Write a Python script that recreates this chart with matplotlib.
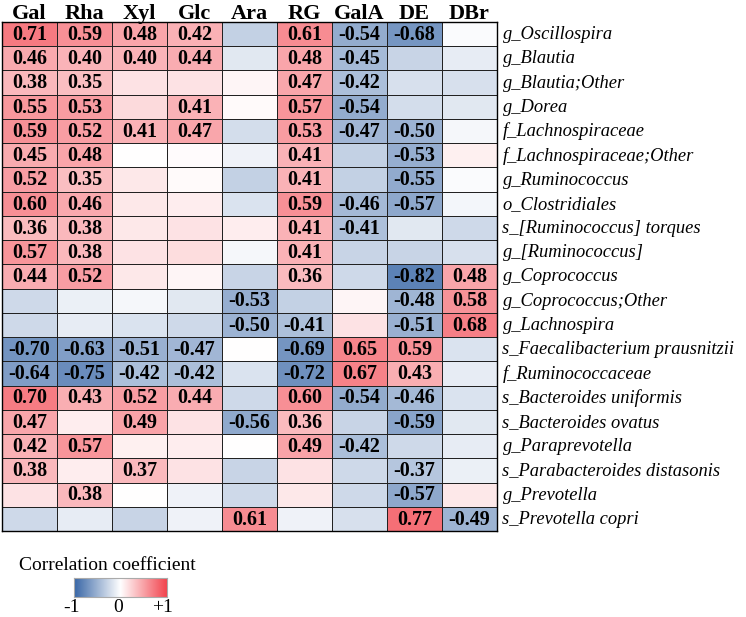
import numpy as np
import matplotlib
matplotlib.use("Agg")
import matplotlib.pyplot as plt
from matplotlib.colors import LinearSegmentedColormap

columns = ["Gal", "Rha", "Xyl", "Glc", "Ara", "RG", "GalA", "DE", "DBr"]
taxa = ["g_Oscillospira", "g_Blautia", "g_Blautia;Other", "g_Dorea",
        "f_Lachnospiraceae", "f_Lachnospiraceae;Other", "g_Ruminococcus",
        "o_Clostridiales", "s_[Ruminococcus] torques", "g_[Ruminococcus]",
        "g_Coprococcus", "g_Coprococcus;Other", "g_Lachnospira",
        "s_Faecalibacterium prausnitzii", "f_Ruminococcaceae",
        "s_Bacteroides uniformis", "s_Bacteroides ovatus", "g_Paraprevotella",
        "s_Parabacteroides distasonis", "g_Prevotella", "s_Prevotella copri"]

# correlation values (unlabelled cells estimated from colour)
r_values = [
    [0.71, 0.59, 0.48, 0.42, -0.30, 0.61, -0.54, -0.68, -0.03],
    [0.46, 0.40, 0.40, 0.44, -0.15, 0.48, -0.45, -0.28, -0.12],
    [0.38, 0.35, 0.15, 0.15, 0.05, 0.47, -0.42, -0.20, -0.20],
    [0.55, 0.53, 0.20, 0.41, 0.03, 0.57, -0.54, -0.22, -0.15],
    [0.59, 0.52, 0.41, 0.47, -0.22, 0.53, -0.47, -0.50, -0.05],
    [0.45, 0.48, 0.00, 0.02, -0.08, 0.41, -0.30, -0.53, 0.08],
    [0.52, 0.35, 0.12, 0.03, -0.30, 0.41, -0.30, -0.55, -0.03],
    [0.60, 0.46, 0.12, 0.10, -0.18, 0.59, -0.46, -0.57, -0.06],
    [0.36, 0.38, 0.12, 0.15, 0.10, 0.41, -0.41, -0.15, -0.25],
    [0.57, 0.38, 0.15, 0.18, -0.05, 0.41, -0.28, -0.28, -0.20],
    [0.44, 0.52, 0.12, 0.05, -0.28, 0.36, -0.25, -0.82, 0.48],
    [-0.25, -0.10, -0.05, -0.15, -0.53, -0.30, 0.05, -0.48, 0.58],
    [-0.25, -0.12, -0.18, -0.25, -0.50, -0.41, 0.15, -0.51, 0.68],
    [-0.70, -0.63, -0.51, -0.47, 0.00, -0.69, 0.65, 0.59, -0.18],
    [-0.64, -0.75, -0.42, -0.42, -0.18, -0.72, 0.67, 0.43, -0.12],
    [0.70, 0.43, 0.52, 0.44, -0.25, 0.60, -0.54, -0.46, -0.18],
    [0.47, 0.10, 0.49, 0.15, -0.56, 0.36, -0.28, -0.59, -0.15],
    [0.42, 0.57, 0.08, 0.10, 0.00, 0.49, -0.42, -0.25, -0.12],
    [0.38, 0.10, 0.37, 0.15, -0.28, 0.15, -0.25, -0.37, -0.10],
    [0.15, 0.38, 0.00, -0.08, -0.25, 0.12, -0.25, -0.57, 0.12],
    [-0.25, -0.12, -0.28, -0.08, 0.61, -0.08, -0.20, 0.77, -0.49],
]
label_threshold = 0.35

data = np.array(r_values)
nrow, ncol = data.shape

cmap = LinearSegmentedColormap.from_list("rb", ["#3866a6", "#ffffff", "#f2444e"])

fig = plt.figure(figsize=(7.46, 6.17), dpi=100)
ax = fig.add_axes([2/746, 1-531/617, 495/746, 509/617])
ax.pcolormesh(np.arange(ncol+1), np.arange(nrow+1), data, cmap=cmap,
              vmin=-1, vmax=1, edgecolors="#222222", linewidth=0.6)
ax.set_xlim(0, ncol)
ax.set_ylim(nrow, 0)
for s in ax.spines.values():
    s.set_linewidth(1.0)
ax.set_xticks([])
ax.set_yticks([])

serif = ["Liberation Serif", "DejaVu Serif"]
for i in range(nrow):
    for j in range(ncol):
        v = data[i, j]
        if abs(v) >= label_threshold:
            ax.text(j+0.5, i+0.53, f"{v:.2f}", ha="center", va="center",
                    fontsize=14.5, fontweight="bold", family=serif)
for j, c in enumerate(columns):
    ax.text(j+0.5, -0.12, c, ha="center", va="baseline", fontsize=16,
            fontweight="bold", family=serif)
for i, t in enumerate(taxa):
    ax.text(ncol+0.1, i+0.52, t, ha="left", va="center", fontsize=13.3,
            style="italic", family=serif)

# colour bar
cax = fig.add_axes([74/746, 1-597/617, 93/746, 19/617])
grad = np.linspace(-1, 1, 256).reshape(1, -1)
cax.imshow(grad, aspect="auto", cmap=cmap, vmin=-1, vmax=1, extent=[-1, 1, 0, 1])
cax.set_xticks([])
cax.set_yticks([])
for s in cax.spines.values():
    s.set_edgecolor("#aaaaaa")
    s.set_linewidth(0.8)
fig.text(107/746, 1-566/617, "Correlation coefficient", ha="center", va="center",
         fontsize=14, family=serif)
for x, lab in [(72, "-1"), (118, "0"), (162, "+1")]:
    fig.text(x/746, 1-608/617, lab, ha="center", va="center", fontsize=14, family=serif)

fig.savefig("out.png", dpi=100)
